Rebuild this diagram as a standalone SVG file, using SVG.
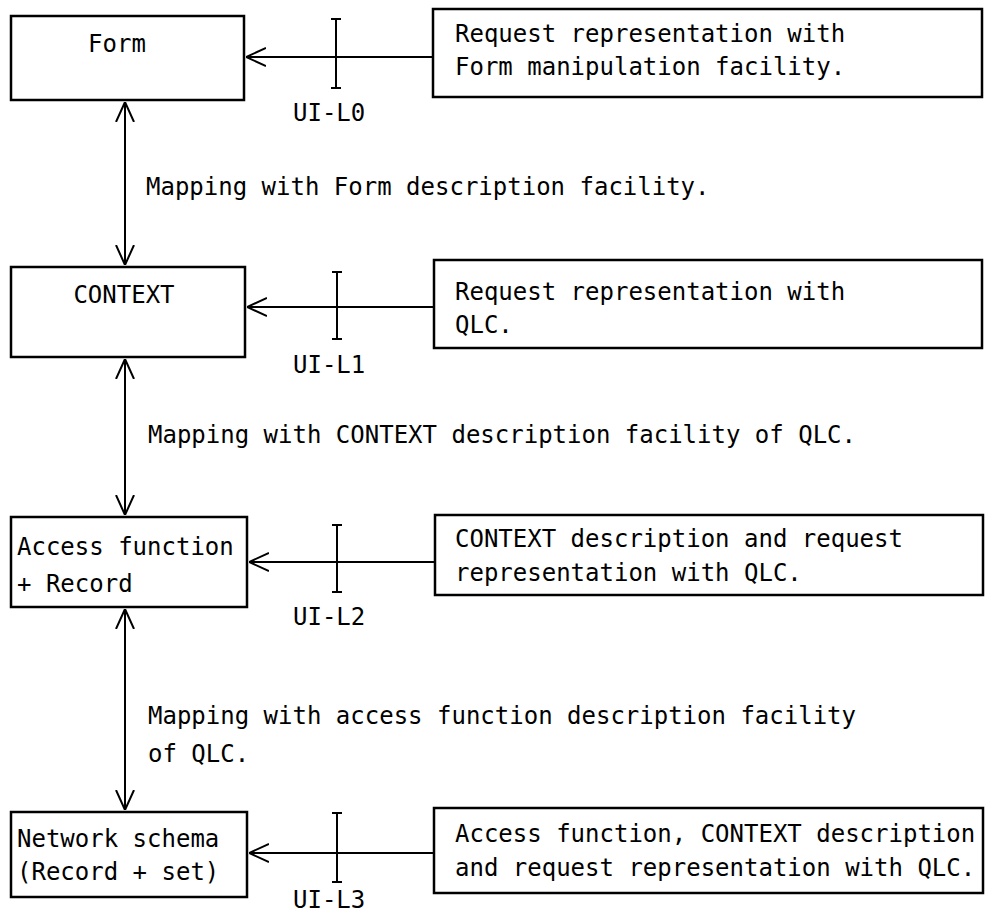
<svg xmlns="http://www.w3.org/2000/svg" width="986" height="918" viewBox="0 0 986 918">
<style>
.box{fill:#fff;stroke:#000;stroke-width:2.5}
.ln{fill:none;stroke:#000;stroke-width:2}
.t{font-family:"DejaVu Sans Mono","Liberation Mono",monospace;font-size:24px;fill:#000}
.c{text-anchor:middle}
</style>
<defs>
<marker id="ah" viewBox="0 0 20 20" refX="20" refY="10" markerWidth="20" markerHeight="20" markerUnits="userSpaceOnUse" orient="auto-start-reverse">
<path d="M0,1 L20,10 L0,19" fill="none" stroke="#000" stroke-width="2"/>
</marker>
</defs>
<rect width="986" height="918" fill="#fff"/>
<g id="form">
<rect class="box" x="11" y="16" width="233" height="84"/>
<text class="t c" x="117" y="52">Form</text>
</g>
<g id="context">
<rect class="box" x="11" y="267" width="234" height="90"/>
<text class="t c" x="124" y="303">CONTEXT</text>
</g>
<g id="access">
<rect class="box" x="11" y="517" width="236" height="90"/>
<text class="t" x="17" y="555">Access function</text>
<text class="t" x="17" y="592">+ Record</text>
</g>
<g id="network">
<rect class="box" x="11" y="812" width="236" height="85"/>
<text class="t" x="17" y="847">Network schema</text>
<text class="t" x="17" y="880">(Record + set)</text>
</g>
<g id="req0">
<rect class="box" x="433" y="9" width="549" height="88"/>
<text class="t" x="455" y="42">Request representation with</text>
<text class="t" x="455" y="75">Form manipulation facility.</text>
</g>
<g id="req1">
<rect class="box" x="434" y="260" width="548" height="88"/>
<text class="t" x="455" y="300">Request representation with</text>
<text class="t" x="455" y="333">QLC.</text>
</g>
<g id="req2">
<rect class="box" x="435" y="515" width="548" height="80"/>
<text class="t" x="455" y="547">CONTEXT description and request</text>
<text class="t" x="455" y="581">representation with QLC.</text>
</g>
<g id="req3">
<rect class="box" x="434" y="808" width="549" height="85"/>
<text class="t" x="455" y="842">Access function, CONTEXT description</text>
<text class="t" x="455" y="876">and request representation with QLC.</text>
</g>
<g id="ui0">
<path class="ln" d="M336,19 V88 M331,19 H341 M331,88 H341"/>
<text class="t" x="293" y="121">UI-L0</text>
</g>
<g id="ui1">
<path class="ln" d="M337,272 V339 M332,272 H342 M332,339 H342"/>
<text class="t" x="293" y="373">UI-L1</text>
</g>
<g id="ui2">
<path class="ln" d="M337,525 V592 M332,525 H342 M332,592 H342"/>
<text class="t" x="293" y="625">UI-L2</text>
</g>
<g id="ui3">
<path class="ln" d="M337,813 V882 M332,813 H342 M332,882 H342"/>
<text class="t" x="293" y="908">UI-L3</text>
</g>
<g id="connectors">
<line class="ln" x1="433" y1="57" x2="246" y2="57" marker-end="url(#ah)"/>
<line class="ln" x1="434" y1="307" x2="247" y2="307" marker-end="url(#ah)"/>
<line class="ln" x1="435" y1="562" x2="249" y2="562" marker-end="url(#ah)"/>
<line class="ln" x1="434" y1="853" x2="249" y2="853" marker-end="url(#ah)"/>
<line class="ln" x1="125" y1="102" x2="125" y2="265" marker-start="url(#ah)" marker-end="url(#ah)"/>
<line class="ln" x1="125" y1="359" x2="125" y2="515" marker-start="url(#ah)" marker-end="url(#ah)"/>
<line class="ln" x1="125" y1="609" x2="125" y2="810" marker-start="url(#ah)" marker-end="url(#ah)"/>
<text class="t" x="146" y="195">Mapping with Form description facility.</text>
<text class="t" x="148" y="443">Mapping with CONTEXT description facility of QLC.</text>
<text class="t" x="148" y="724">Mapping with access function description facility</text>
<text class="t" x="148" y="762">of QLC.</text>
</g>
</svg>
